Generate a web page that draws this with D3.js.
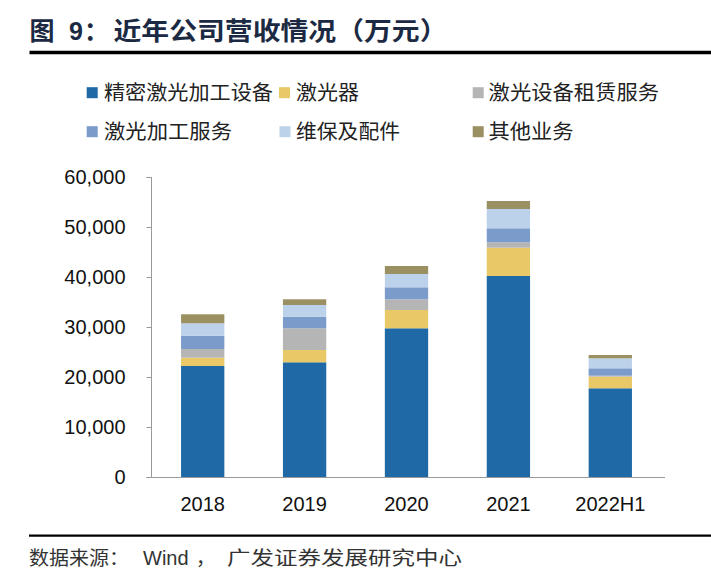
<!DOCTYPE html>
<html><head><meta charset="utf-8">
<script src="https://cdn.jsdelivr.net/npm/d3@7"></script>
<style>body{margin:0;background:#fff}svg{display:block}</style>
</head><body>
<script>
const categories = ["2018","2019","2020","2021","2022H1"];
const seriesNames = ["精密激光加工设备","激光器","激光设备租赁服务","激光加工服务","维保及配件","其他业务"];
const precision = [22200,22940,29740,40200,17740];
const lasers = [1660,2460,3660,5660,2320];
const rental = [1740,4340,2140,1080,200];
const processing = [2660,2320,2400,2800,1480];
const maintenance = [2480,2340,2660,3860,2000];
const other = [1800,1140,1600,1600,660];
const yTicks = [0,10000,20000,30000,40000,50000,60000];
const colors = ["#1f6aa6","#e8c867","#b5b5b5","#7b9bcb","#bcd1ea","#9b9061"];

const W=711,H=573;
const svg=d3.select("body").append("svg").attr("width",W).attr("height",H);
const cjk="'Noto Sans CJK SC','Liberation Sans',sans-serif";
const lat="'Liberation Sans',Arial,sans-serif";

// title
svg.append("text").attr("x",29.5).attr("y",39.5).attr("font-family",cjk).attr("font-weight","bold")
  .attr("font-size",25).attr("fill","#1b2a42").text("图");
svg.append("text").attr("x",69).attr("y",39.5).attr("font-family",lat).attr("font-weight","bold")
  .attr("font-size",25).attr("fill","#1b2a42").text("9");
svg.append("text").attr("x",84).attr("y",39.5).attr("font-family",cjk).attr("font-weight","bold")
  .attr("font-size",25).attr("fill","#1b2a42").text("：");
svg.append("text").attr("x",113.5).attr("y",39.5).attr("font-family",cjk).attr("font-weight","bold")
  .attr("font-size",25).attr("fill","#1b2a42").attr("textLength",334).attr("lengthAdjust","spacingAndGlyphs")
  .text("近年公司营收情况（万元）");
svg.append("line").attr("x1",29.5).attr("x2",711).attr("y1",52.5).attr("y2",52.5).attr("stroke","#000").attr("stroke-width",3.5);

// legend
const legSq=[[86.7,92.7],[279,92.7],[472.7,92.7],[86.7,131.7],[279.5,131.7],[472.7,131.7]];
const legTx=[[104,169],[296,63],[488.6,170.4],[104,128],[296,104],[488.6,85]];
seriesNames.forEach((n,i)=>{
  svg.append("rect").attr("x",legSq[i][0]).attr("y",legSq[i][1]-5.5).attr("width",11).attr("height",11).attr("fill",colors[i]);
  svg.append("text").attr("x",legTx[i][0]).attr("y",legSq[i][1]).attr("dy","0.38em")
    .attr("font-family",cjk).attr("font-size",20).attr("fill","#222")
    .attr("textLength",legTx[i][1]).attr("lengthAdjust","spacingAndGlyphs").text(n);
});

const data=categories.map((c,i)=>({cat:c,s0:precision[i],s1:lasers[i],s2:rental[i],s3:processing[i],s4:maintenance[i],s5:other[i]}));
const stack=d3.stack().keys(["s0","s1","s2","s3","s4","s5"])(data);

const x=d3.scaleBand().domain(categories).range([151.5,661.5]).paddingInner(0.575).paddingOuter(0.29);
const y=d3.scaleLinear().domain([0,60000]).range([477,177]);

const g=svg.append("g");
stack.forEach((layer,i)=>{
  g.selectAll(null).data(layer).enter().append("rect")
    .attr("x",d=>x(d.data.cat)).attr("width",x.bandwidth())
    .attr("y",d=>y(d[1])).attr("height",d=>y(d[0])-y(d[1]))
    .attr("fill",colors[i]);
});

// y axis
const ya=svg.append("g").attr("transform","translate(151.5,0)")
  .call(d3.axisLeft(y).tickValues(yTicks).tickSize(5).tickPadding(21).tickFormat(d3.format(",")));
ya.select(".domain").attr("stroke","#999").attr("d","M-5,177.5H0V477.5H-5");
ya.selectAll(".tick line").attr("stroke","#999");
ya.selectAll("text").attr("font-family",lat).attr("font-size",20).attr("fill","#111");

// x axis
const xa=svg.append("g").attr("transform","translate(0,477.5)")
  .call(d3.axisBottom(x).tickSize(0).tickPadding(19));
xa.select(".domain").attr("stroke","#999").attr("d","M151.5,0H665");
xa.selectAll("text").attr("font-family",lat).attr("font-size",20).attr("fill","#111");

// source
svg.append("line").attr("x1",29).attr("x2",711).attr("y1",535.7).attr("y2",535.7).attr("stroke","#000").attr("stroke-width",2.3);
svg.append("text").attr("x",29).attr("y",565).attr("font-family",cjk).attr("font-size",19).attr("fill","#333")
  .attr("textLength",100).attr("lengthAdjust","spacingAndGlyphs").text("数据来源：");
svg.append("text").attr("x",143).attr("y",565).attr("font-family",lat).attr("font-size",20).attr("fill","#333")
  .text("Wind");
svg.append("text").attr("x",196).attr("y",565).attr("font-family",cjk).attr("font-size",19).attr("fill","#333")
  .text("，");
svg.append("text").attr("x",227).attr("y",565).attr("font-family",cjk).attr("font-size",19).attr("fill","#333")
  .attr("textLength",235).attr("lengthAdjust","spacingAndGlyphs").text("广发证券发展研究中心");
</script>
</body></html>
